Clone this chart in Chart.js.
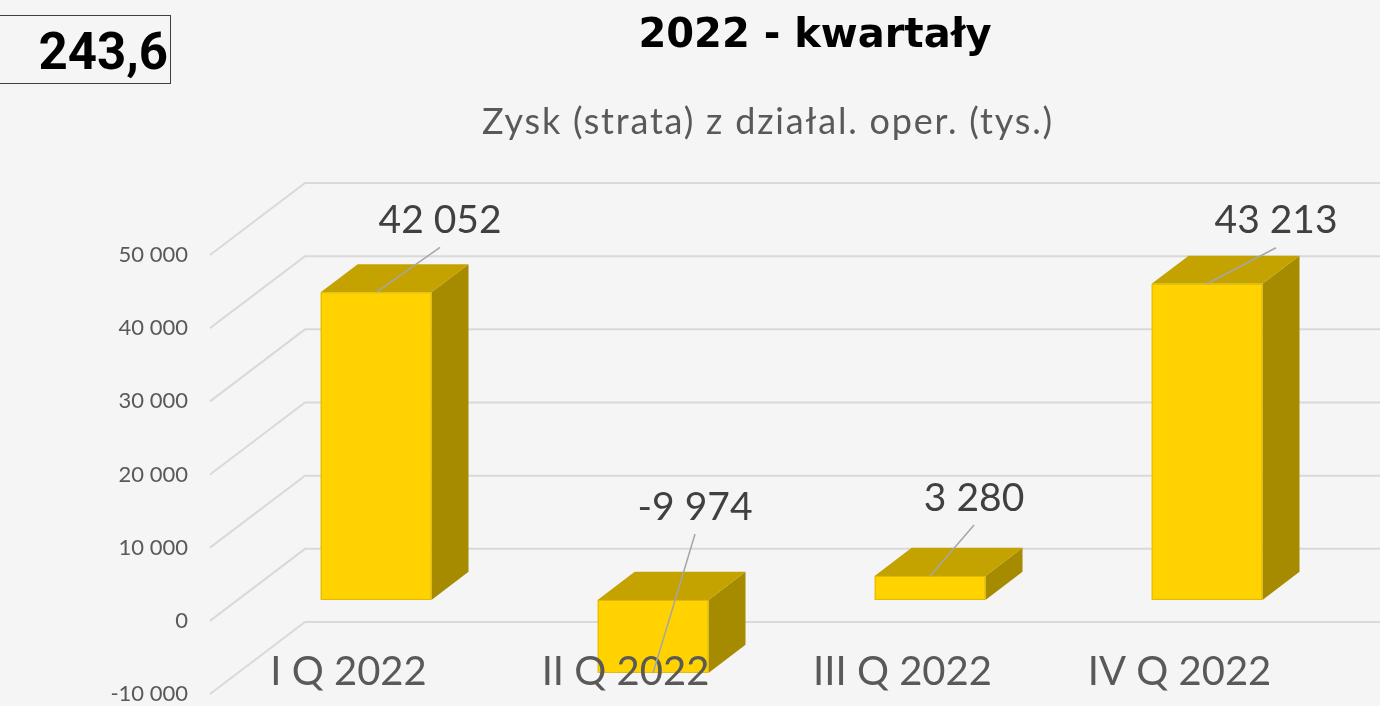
<!DOCTYPE html>
<html>
<head>
<meta charset="utf-8">
<script src="https://cdn.jsdelivr.net/npm/chart.js"></script>
<style>
  html, body { margin: 0; padding: 0; background: #f5f5f5; overflow: hidden; }
  canvas { display: block; }
</style>
</head>
<body>
<canvas id="zyskChart" width="1380" height="706"></canvas>
<script>
// Kwartały 2022
const categories = ['I Q 2022', 'II Q 2022', 'III Q 2022', 'IV Q 2022'];
// Zysk (strata) z działal. oper. (tys.)
const profitValues = [42052, -9974, 3280, 43213];
// Oś Y
const yMin = -10000, yMax = 50000, yStep = 10000;
// Suma w ramce
const totalText = '243,6';
const titleText = '2022 - kwartały';
const subtitleText = 'Zysk (strata) z działal. oper. (tys.)';

// przesunięcia etykiet danych względem końca słupka (px)
const labelOffsets = [[64, -72], [42, -166], [44, -78], [69, -63]];
// głębokość 3D
const depth = { dx: 95, dy: 72 };
const barFront = 0.29, barBack = 0.68;

const labelFont = 'Lato, "Open Sans", sans-serif';

// 42052 -> "42 052"
function fmt(v) {
  const s = Math.abs(Math.round(v)).toString().replace(/\B(?=(\d{3})+(?!\d))/g, ' ');
  return (v < 0 ? '-' : '') + s;
}

const plot3d = {
  id: 'plot3d',
  beforeDraw(chart) {
    const { ctx } = chart;
    ctx.save();
    ctx.fillStyle = '#f5f5f5';
    ctx.fillRect(0, 0, chart.width, chart.height);
    // tytuł
    ctx.fillStyle = '#000';
    ctx.font = 'bold 40px "DejaVu Sans", sans-serif';
    ctx.textAlign = 'center';
    ctx.textBaseline = 'middle';
    ctx.fillText(titleText, 815, 37);
    // podtytuł
    ctx.fillStyle = '#595959';
    ctx.font = '36px ' + labelFont;
    ctx.letterSpacing = '1.8px';
    ctx.fillText(subtitleText, 768, 122);
    ctx.letterSpacing = '0px';
    // ramka z sumą
    ctx.strokeStyle = '#404040';
    ctx.lineWidth = 1;
    ctx.strokeRect(-1, 15.5, 171.5, 68);
    ctx.fillStyle = '#000';
    ctx.font = 'bold 51px Roboto, sans-serif';
    ctx.textAlign = 'right';
    ctx.fillText(totalText, 168, 56);
    ctx.restore();
  },
  beforeDatasetsDraw(chart) {
    const { ctx, chartArea: a, scales: { y } } = chart;
    ctx.save();
    ctx.strokeStyle = '#d9d9d9';
    ctx.lineWidth = 2;
    y.ticks.forEach(t => {
      const py = y.getPixelForValue(t.value);
      ctx.beginPath();
      ctx.moveTo(a.left, py);
      ctx.lineTo(a.left + depth.dx, py - depth.dy);
      ctx.lineTo(a.right + depth.dx + 100, py - depth.dy);
      ctx.stroke();
    });
    ctx.restore();
  },
  afterDatasetsDraw(chart) {
    const { ctx, scales: { x, y } } = chart;
    const meta = chart.getDatasetMeta(0);
    const fx = depth.dx * barFront, fy = depth.dy * barFront;
    const bx = depth.dx * (barBack - barFront), by = depth.dy * (barBack - barFront);
    ctx.save();
    // słupki 3D
    meta.data.forEach(bar => {
      const p = bar.getProps(['x', 'y', 'base', 'width'], true);
      const L = p.x - p.width / 2 + fx, R = p.x + p.width / 2 + fx;
      const T = Math.min(p.y, p.base) - fy, B = Math.max(p.y, p.base) - fy;
      // bok
      ctx.fillStyle = '#a68a00';
      ctx.beginPath();
      ctx.moveTo(R, T); ctx.lineTo(R + bx, T - by); ctx.lineTo(R + bx, B - by); ctx.lineTo(R, B);
      ctx.closePath(); ctx.fill();
      // góra
      ctx.fillStyle = '#c4a300';
      ctx.beginPath();
      ctx.moveTo(L, T); ctx.lineTo(L + bx, T - by); ctx.lineTo(R + bx, T - by); ctx.lineTo(R, T);
      ctx.closePath(); ctx.fill();
      // przód
      ctx.fillStyle = '#ffd200';
      ctx.fillRect(L, T, R - L, B - T);
      ctx.strokeStyle = 'rgba(200,170,0,0.6)';
      ctx.lineWidth = 1;
      ctx.strokeRect(L + 0.5, T + 0.5, R - L - 1, B - T - 1);
    });
    // etykiety kategorii
    ctx.fillStyle = '#595959';
    ctx.font = '40px ' + labelFont;
    ctx.textAlign = 'center';
    ctx.textBaseline = 'middle';
    const catY = y.getPixelForValue(yMin) - 22;
    categories.forEach((c, i) => ctx.fillText(c, x.getPixelForValue(i), catY));
    // etykiety danych z liniami
    meta.data.forEach((bar, i) => {
      const p = bar.getProps(['x', 'y'], true);
      const ax = p.x + fx, ay = p.y - fy;
      const lx = ax + labelOffsets[i][0], ly = ay + labelOffsets[i][1];
      ctx.strokeStyle = '#a6a6a6';
      ctx.lineWidth = 1.5;
      ctx.beginPath();
      ctx.moveTo(ax, ay);
      ctx.lineTo(lx, ly + 27);
      ctx.stroke();
      ctx.fillStyle = '#404040';
      ctx.font = '39px ' + labelFont;
      ctx.fillText(fmt(profitValues[i]), lx, ly);
    });
    ctx.restore();
  }
};

new Chart(document.getElementById('zyskChart'), {
  type: 'bar',
  data: {
    labels: categories,
    datasets: [{
      data: profitValues,
      backgroundColor: 'rgba(0,0,0,0)',
      borderWidth: 0,
      categoryPercentage: 1,
      barPercentage: 0.4
    }]
  },
  options: {
    responsive: false,
    animation: false,
    layout: { padding: { left: 0, right: 62, top: 255, bottom: 12 } },
    plugins: {
      legend: { display: false },
      tooltip: { enabled: false }
    },
    scales: {
      x: { display: false },
      y: {
        min: yMin,
        max: yMax,
        afterFit(scale) {
          scale.width = 210;
          scale.paddingTop = 0;
          scale.paddingBottom = 0;
        },
        ticks: {
          stepSize: yStep,
          padding: 14,
          color: '#595959',
          font: { family: 'Lato', size: 22 },
          callback: v => fmt(v)
        },
        grid: { display: false },
        border: { display: false }
      }
    }
  },
  plugins: [plot3d]
});
</script>
</body>
</html>
